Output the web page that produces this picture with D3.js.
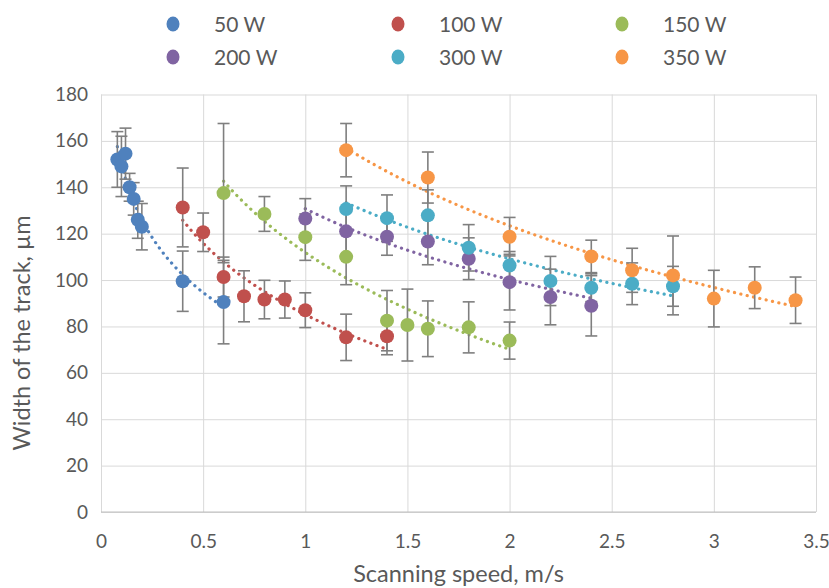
<!DOCTYPE html>
<html><head><meta charset="utf-8">
<script src="https://cdn.jsdelivr.net/npm/d3@7"></script>
<style>
body{margin:0;background:#fff}
text{font-family:Lato,"Open Sans",sans-serif;fill:#595959}
</style>
</head><body>
<svg id="chart" width="829" height="588"></svg>
<script>
// ---- data ----
const seriesNames = ["50 W","100 W","150 W","200 W","300 W","350 W"];
const seriesColors = ["#4F81BD","#C0504D","#9BBB59","#8064A2","#4BACC6","#F79646"];

const speed50 = [0.08,0.1,0.12,0.14,0.16,0.18,0.2,0.4,0.6];
const width50 = [152,149,154.5,140,135,126,123,99.5,90.5];
const err50   = [12,13,11,6,7,8,10,13,18];

const speed100 = [0.4,0.5,0.6,0.7,0.8,0.9,1.0,1.2,1.4];
const width100 = [131.3,120.6,101.3,93,91.6,91.6,87,75.3,75.8];
const err100   = [17,8.3,8.6,11,8.3,8,7.5,10,8];

const speed150 = [0.6,0.8,1.0,1.2,1.4,1.5,1.6,1.8,2.0];
const width150 = [137.5,128.5,118.5,110,82.5,80.6,79,79.6,73.9];
const err150   = [30,7.5,10,12,13,15.5,12,11,8];

const speed200 = [1.0,1.2,1.4,1.6,1.8,2.0,2.2,2.4];
const width200 = [126.5,121,118.7,116.6,109.2,99.1,92.7,88.9];
const err200   = [8.6,10,8,10,9,12,12,13];

const speed300 = [1.2,1.4,1.6,1.8,2.0,2.2,2.4,2.6,2.8];
const width300 = [130.6,126.7,127.9,113.9,106.3,99.6,96.7,98.4,97.3];
const err300   = [10,10,11,10,6,10.6,6,9,8.6];

const speed350 = [1.2,1.6,2.0,2.4,2.6,2.8,3.0,3.2,3.4];
const width350 = [156,144.2,118.7,110.2,104.2,102,92,96.7,91.3];
const err350   = [11.5,11,8.3,7,9.5,17,12.2,9,10];

const xTicks = [0,0.5,1,1.5,2,2.5,3,3.5];
const yTicks = [0,20,40,60,80,100,120,140,160,180];
const xTitle = "Scanning speed, m/s";
const yTitle = "Width of the track, µm";

const speeds = [speed50,speed100,speed150,speed200,speed300,speed350];
const widths = [width50,width100,width150,width200,width300,width350];
const errs   = [err50,err100,err150,err200,err300,err350];

const series = seriesNames.map((name,i)=>({
  name, color: seriesColors[i],
  pts: speeds[i].map((s,j)=>({x:s,y:widths[i][j],e:errs[i][j]}))
}));

// logarithmic trendline (least squares y = a + b ln x), as in the spreadsheet
function logFit(pts){
  const lx = pts.map(p=>Math.log(p.x)), ys = pts.map(p=>p.y);
  const mx = d3.mean(lx), my = d3.mean(ys);
  let sxy=0,sxx=0;
  lx.forEach((v,i)=>{sxy+=(v-mx)*(ys[i]-my);sxx+=(v-mx)*(v-mx);});
  const b = sxy/sxx, a = my - b*mx;
  return x => a + b*Math.log(x);
}

// ---- chart ----
const svg = d3.select("#chart");
const L=101,R=816,T=94.5,B=512;
const x = d3.scaleLinear().domain([0,3.5]).range([L,R]);
const y = d3.scaleLinear().domain([0,180]).range([B,T]);

const gx = svg.append("g").attr("transform",`translate(0,${B})`)
  .call(d3.axisBottom(x).tickValues(xTicks).tickSize(-(B-T)).tickPadding(23).tickFormat(d3.format("")));
gx.select(".domain").remove();
gx.selectAll("line").attr("stroke","#d9d9d9");
gx.selectAll("text").attr("font-size",19).style("fill","#595959");

const gy = svg.append("g").attr("transform",`translate(${L},0)`)
  .call(d3.axisLeft(y).tickValues(yTicks).tickSize(-(R-L)).tickPadding(13));
gy.select(".domain").remove();
gy.selectAll("line").attr("stroke","#d9d9d9");
gy.selectAll("text").attr("font-size",19).style("fill","#595959");

svg.append("line").attr("x1",L).attr("x2",R).attr("y1",B).attr("y2",B).attr("stroke","#bfbfbf");

// trendlines
const line = d3.line().x(d=>x(d[0])).y(d=>y(d[1]));
series.forEach(s=>{
  const f = logFit(s.pts);
  const x0 = d3.min(s.pts,p=>p.x), x1 = d3.max(s.pts,p=>p.x);
  const n = 80;
  const samp = d3.range(n+1).map(k=>{const xv=x0+(x1-x0)*k/n;return [xv,f(xv)];});
  svg.append("path").attr("d",line(samp)).attr("fill","none")
    .attr("stroke",s.color).attr("stroke-width",3.2)
    .attr("stroke-linecap","round").attr("stroke-dasharray","0.1 6.4");
});

// error bars
const eb = svg.append("g").attr("stroke","#7f7f7f").attr("stroke-width",1.6);
series.forEach(s=>{
  s.pts.forEach(p=>{
    const cx=x(p.x), yt=y(p.y+p.e), yb=y(p.y-p.e);
    eb.append("line").attr("x1",cx).attr("x2",cx).attr("y1",yt).attr("y2",yb);
    eb.append("line").attr("x1",cx-6).attr("x2",cx+6).attr("y1",yt).attr("y2",yt);
    eb.append("line").attr("x1",cx-6).attr("x2",cx+6).attr("y1",yb).attr("y2",yb);
  });
});

// markers
series.forEach(s=>{
  svg.append("g").selectAll("circle").data(s.pts).join("circle")
    .attr("cx",p=>x(p.x)).attr("cy",p=>y(p.y)).attr("r",7).attr("fill",s.color);
});

// legend
const legX=[173,398,622], legY=[24,57];
series.forEach((s,i)=>{
  const cx=legX[i%3], cy=legY[Math.floor(i/3)];
  svg.append("ellipse").attr("cx",cx).attr("cy",cy).attr("rx",6.5).attr("ry",7.5).attr("fill",s.color);
  svg.append("text").attr("x",cx+41).attr("y",cy).attr("dy","0.36em").attr("font-size",21).text(s.name);
});

// axis titles
svg.append("text").attr("x",(L+R)/2).attr("y",582).attr("text-anchor","middle").attr("font-size",23.5).text(xTitle);
svg.append("text").attr("transform","translate(30,333) rotate(-90)").attr("text-anchor","middle").attr("font-size",23.5).text(yTitle);
</script>
</body></html>
